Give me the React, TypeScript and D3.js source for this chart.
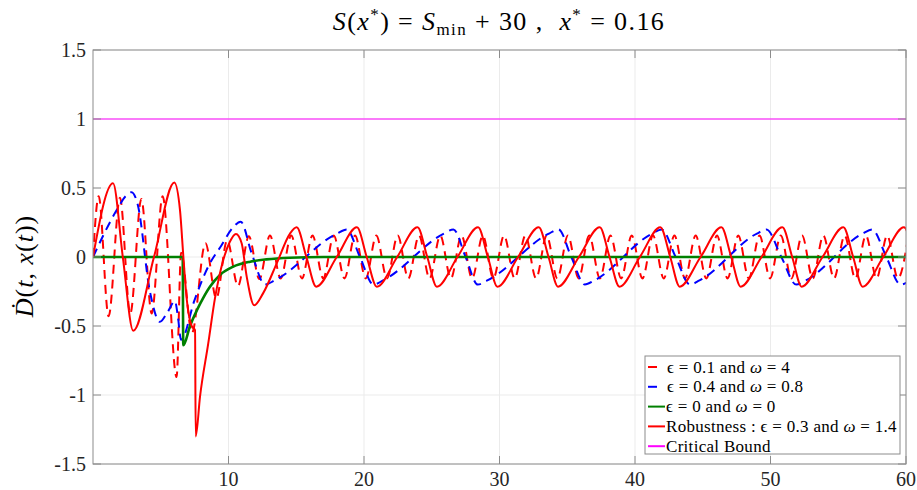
import React from "react";
import * as d3 from "d3";

type P = [number, number];

// ε = 0.1, ω = 4 (dashed red)
const seriesEps01: P[] = [
  [0, 0], [0.42, 0.44], [1.15, -0.43], [1.99, 0.43], [2.75, -0.41], [3.57, 0.42], [4.33, -0.41], [5.14, 0.44],
  [6.17, -0.87], [6.5, 0.03], [7.3, -0.55], [8.3, 0.1], [9.1, -0.3], [9.9, 0.12], [10.7, -0.21], [11.5, 0.15],
  [12.28, -0.16], [13.06, 0.155], [13.85, -0.155], [14.63, 0.155], [15.42, -0.155], [16.2, 0.155], [16.99, -0.155],
  [17.77, 0.155], [18.56, -0.155], [19.34, 0.155], [20.13, -0.155], [20.91, 0.155], [21.7, -0.155], [22.49, 0.155],
  [23.27, -0.155], [24.06, 0.155], [24.84, -0.155], [25.63, 0.155], [26.41, -0.155], [27.2, 0.155], [27.98, -0.155],
  [28.77, 0.155], [29.55, -0.155], [30.34, 0.155], [31.12, -0.155], [31.91, 0.155], [32.7, -0.155], [33.48, 0.155],
  [34.27, -0.155], [35.05, 0.155], [35.84, -0.155], [36.62, 0.155], [37.41, -0.155], [38.19, 0.155], [38.98, -0.155],
  [39.76, 0.155], [40.55, -0.155], [41.33, 0.155], [42.12, -0.155], [42.91, 0.155], [43.69, -0.155], [44.48, 0.155],
  [45.26, -0.155], [46.05, 0.155], [46.83, -0.155], [47.62, 0.155], [48.4, -0.155], [49.19, 0.155], [49.97, -0.155],
  [50.76, 0.155], [51.54, -0.155], [52.33, 0.155], [53.12, -0.155], [53.9, 0.155], [54.69, -0.155], [55.47, 0.155],
  [56.26, -0.155], [57.04, 0.155], [57.83, -0.155], [58.61, 0.155], [59.4, -0.155], [60.18, 0.155],
];

// ε = 0.4, ω = 0.8 (dashed blue)
const seriesEps04: P[] = [
  [0, 0], [1.75, 0.34], [2.4, 0.44], [2.85, 0.47], [3.3, 0.38], [4.2, -0.25], [4.94, -0.47], [5.5, -0.4],
  [6.05, -0.32], [6.25, -0.42], [6.5, -0.6], [7.5, -0.31], [8.5, -0.07], [9.5, 0.087], [10.3, 0.21], [10.9, 0.256],
  [11.7, 0.03], [12.7, -0.2],
  [13.4, -0.17], [18.0, 0.17], [18.72, 0.2], [19.7, 0], [20.7, -0.2],
  [21.4, -0.17], [25.9, 0.17], [26.6, 0.2], [27.5, 0], [28.4, -0.2],
  [29.1, -0.17], [33.65, 0.17], [34.35, 0.2], [35.3, 0], [36.3, -0.2],
  [37.0, -0.17], [41.27, 0.17], [41.97, 0.2], [43.0, 0], [44.06, -0.2],
  [44.76, -0.17], [49.0, 0.17], [49.7, 0.2], [50.8, 0], [51.9, -0.2],
  [52.6, -0.17], [56.8, 0.17], [57.5, 0.2], [58.55, 0], [59.6, -0.2], [60.3, -0.17],
];

// ε = 0, ω = 0 (green)
const seriesEps0: P[] = [
  [0, 0], [6.62, 0], [6.66, -0.64], [7.16, -0.5], [7.9, -0.34], [8.63, -0.215], [9.37, -0.13], [10.35, -0.07],
  [11.6, -0.034], [12.8, -0.017], [14.5, -0.005], [17, 0], [60, 0],
];

// Robustness: ε = 0.3, ω = 1.4 (solid red)
const seriesRobust: P[] = [
  [0, 0], [1.48, 0.535], [2.2, 0], [2.97, -0.535], [4.5, 0], [6.0, 0.54], [6.42, 0.34], [6.67, 0], [6.9, -0.29],
  [7.28, -0.5], [7.53, -0.53], [7.58, -1.3], [7.9, -1.01], [8.5, -0.63], [9.0, -0.3], [9.62, -0.02], [10.1, 0.11],
  [10.55, 0.167], [10.97, 0.1], [11.34, -0.14], [11.9, -0.35], [12.57, -0.26], [13.56, -0.046], [14.54, 0.17],
  [15.03, 0.215], [15.75, 0], [16.47, -0.215], [17.99, 0], [19.48, 0.215], [20.2, 0], [20.95, -0.215], [22.45, 0],
  [23.95, 0.215], [24.67, 0], [25.38, -0.215], [26.9, 0], [28.42, 0.215], [29.14, 0], [29.85, -0.215], [31.37, 0],
  [32.9, 0.215], [33.62, 0], [34.32, -0.215], [35.86, 0], [37.4, 0.215], [38.12, 0], [38.85, -0.215], [40.36, 0],
  [41.87, 0.215], [42.6, 0], [43.3, -0.215], [44.84, 0], [46.38, 0.215], [47.1, 0], [47.8, -0.215], [49.34, 0],
  [50.88, 0.215], [51.6, 0], [52.3, -0.215], [53.84, 0], [55.38, 0.215], [56.1, 0], [56.8, -0.215], [58.32, 0],
  [59.85, 0.215], [60.57, 0],
];

const criticalBound: P[] = [[0, 1], [60, 1]];

const xTicks = [10, 20, 30, 40, 50, 60];
const yTicks = [-1.5, -1, -0.5, 0, 0.5, 1, 1.5];
const yTickLabels = ["-1.5", "-1", "-0.5", "0", "0.5", "1", "1.5"];

const W = 917, H = 490;
const L = 93, R = 906, T = 50, B = 464;
const FONT = "'Liberation Serif', 'DejaVu Serif', serif";
const AX = "#8c8c8c";
const TXT = "#262626";

export default function App() {
  const x = d3.scaleLinear().domain([0, 60]).range([L, R]);
  const y = d3.scaleLinear().domain([-1.5, 1.5]).range([B, T]);
  const line = d3.line<P>().x(d => x(d[0])).y(d => y(d[1])).curve(d3.curveMonotoneX);
  const lin = d3.line<P>().x(d => x(d[0])).y(d => y(d[1]));
  const tick = 8;
  const it = { fontStyle: "italic" as const };

  const legendItems = [
    { color: "#ff0000", dashed: true, label: <>{"\u03F5 = 0.1 and "}<tspan {...it}>ω</tspan>{" = 4"}</> },
    { color: "#0000ff", dashed: true, label: <>{"\u03F5 = 0.4 and "}<tspan {...it}>ω</tspan>{" = 0.8"}</> },
    { color: "#008000", dashed: false, label: <>{"\u03F5 = 0 and "}<tspan {...it}>ω</tspan>{" = 0"}</> },
    { color: "#ff0000", dashed: false, label: <>{"Robustness : \u03F5 = 0.3 and "}<tspan {...it}>ω</tspan>{" = 1.4"}</> },
    { color: "#ff00ff", dashed: false, label: <>{"Critical Bound"}</> },
  ];

  return (
    <svg width={W} height={H} style={{ position: "absolute", left: 0, top: 0, background: "#fff" }}
      fontFamily={FONT}>
      <defs>
        <clipPath id="plotclip"><rect x={L} y={T} width={R - L} height={B - T} /></clipPath>
      </defs>
      <rect x={0} y={0} width={W} height={H} fill="#fff" />
      {/* grid */}
      {xTicks.map(t => (
        <line key={"gx" + t} x1={x(t)} x2={x(t)} y1={T} y2={B} stroke="#ebebeb" strokeWidth={1} />
      ))}
      {yTicks.map(t => (
        <line key={"gy" + t} x1={L} x2={R} y1={y(t)} y2={y(t)} stroke="#ebebeb" strokeWidth={1} />
      ))}
      {/* series */}
      <g clipPath="url(#plotclip)" fill="none">
        <path d={line(seriesEps01) || ""} stroke="#ff0000" strokeWidth={2} strokeDasharray="9,6" />
        <path d={line(seriesEps04) || ""} stroke="#0000ff" strokeWidth={2} strokeDasharray="9,6" />
        <path d={line(seriesEps0) || ""} stroke="#008000" strokeWidth={2.6} />
        <path d={line(seriesRobust) || ""} stroke="#ff0000" strokeWidth={2} />
        <path d={lin(criticalBound) || ""} stroke="#ff00ff" strokeWidth={1.2} />
      </g>
      {/* axes box */}
      <rect x={L} y={T} width={R - L} height={B - T} fill="none" stroke={AX} strokeWidth={1} />
      {xTicks.map(t => (
        <g key={"xt" + t}>
          <line x1={x(t)} x2={x(t)} y1={B} y2={B - tick} stroke={AX} />
          <line x1={x(t)} x2={x(t)} y1={T} y2={T + tick} stroke={AX} />
          <text x={x(t)} y={486} textAnchor="middle" fontSize={20} fill={TXT}>{t}</text>
        </g>
      ))}
      {yTicks.map((t, i) => (
        <g key={"yt" + t}>
          <line x1={L} x2={L + tick} y1={y(t)} y2={y(t)} stroke={AX} />
          <line x1={R} x2={R - tick} y1={y(t)} y2={y(t)} stroke={AX} />
          <text x={86} y={y(t) + 7} textAnchor="end" fontSize={20} fill={TXT}>{yTickLabels[i]}</text>
        </g>
      ))}
      {/* title */}
      <text x={499} y={30} textAnchor="middle" fontSize={26} fill="#000" letterSpacing={1.4}
        style={{ whiteSpace: "pre" }}>
        <tspan {...it}>S</tspan>(<tspan {...it}>x</tspan><tspan dy={-10} fontSize={17}>*</tspan>
        <tspan dy={10}>{") = "}</tspan><tspan {...it}>S</tspan><tspan dy={5} fontSize={17}>min</tspan>
        <tspan dy={-5}>{" + 30 ,  "}</tspan><tspan {...it}>x</tspan><tspan dy={-10} fontSize={17}>*</tspan>
        <tspan dy={10}>{" = 0.16"}</tspan>
      </text>
      {/* y label */}
      <text transform="translate(33,266) rotate(-90)" textAnchor="middle" fontSize={26} fill="#000"
        letterSpacing={1} style={{ whiteSpace: "pre" }}>
        <tspan {...it}>Ḋ</tspan>(<tspan {...it}>t</tspan>{", "}<tspan {...it}>x</tspan>(<tspan {...it}>t</tspan>))
      </text>
      {/* legend */}
      <g>
        <rect x={645} y={356} width={255} height={98} fill="#fff" stroke={AX} strokeWidth={1} />
        {legendItems.map((d, i) => {
          const cy = 367 + i * 19.8;
          return (
            <g key={"lg" + i}>
              <line x1={648} x2={d.dashed ? 657 : 665} y1={cy} y2={cy} stroke={d.color} strokeWidth={2} />
              <text x={d.dashed ? 667 : 666} y={cy + 5.5} fontSize={17} letterSpacing={0.3} fill="#000"
                style={{ whiteSpace: "pre" }}>
                {d.label}
              </text>
            </g>
          );
        })}
      </g>
    </svg>
  );
}
